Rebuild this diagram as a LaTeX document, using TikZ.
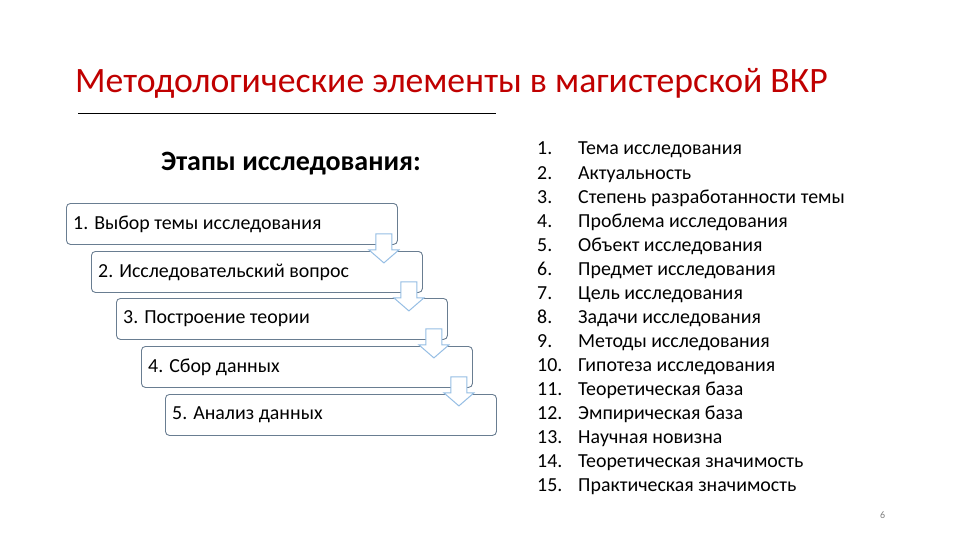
\documentclass[tikz,border=0pt]{standalone}
\usepackage{fontspec}
\setmainfont{Carlito}
\usetikzlibrary{calc}
\definecolor{titlered}{RGB}{192,0,0}
\definecolor{boxline}{RGB}{105,125,145}
\definecolor{arrline}{RGB}{150,190,228}
\begin{document}
\begin{tikzpicture}[x=1pt,y=-1pt,
  stagebox/.style={draw=boxline, line width=0.9pt, rounded corners=4pt, fill=white,
    minimum width=331pt, minimum height=41pt, anchor=north west, inner sep=0pt},
  stagetext/.style={anchor=west, inner sep=0pt, font=\fontsize{19.9}{22}\selectfont},
  downarrow/.style={draw=arrline, line width=1pt, fill=white, line join=miter},
  listnum/.style={anchor=base west, inner sep=0pt, font=\fontsize{19.9}{22}\selectfont},
  listtxt/.style={anchor=base west, inner sep=0pt, font=\fontsize{19.9}{22}\selectfont}]
\useasboundingbox (0,0) rectangle (960,540);
\fill[white] (0,0) rectangle (960,540);
% title
\node[anchor=base west, inner sep=0pt, text=titlered, font=\fontsize{35.7}{40}\selectfont] (title) at (75,93) {Методологические элементы в магистерской ВКР};
\coordinate (ruleA) at (78,113);
\coordinate (ruleB) at (496,113);
\draw[line width=0.8pt, black] (ruleA) -- (ruleB);
% heading
\node[anchor=base west, inner sep=0pt, font=\fontsize{28}{30}\bfseries\selectfont] (head) at (161,171) {Этапы исследования:};
% stage boxes
\node[stagebox] (b1) at (66,203) {};
\node[stagebox] (b2) at (91,251) {};
\node[stagebox] (b3) at (116,298) {};
\node[stagebox] (b4) at (141,346) {};
\node[stagebox] (b5) at (165,394) {};
\node[stagetext] (s1) at ($(b1.west)+(7,0)$) {1. Выбор темы исследования};
\node[stagetext] (s2) at ($(b2.west)+(7,0)$) {2. Исследовательский вопрос};
\node[stagetext] (s3) at ($(b3.west)+(7,0)$) {3. Построение теории};
\node[stagetext] (s4) at ($(b4.west)+(7,0)$) {4. Сбор данных};
\node[stagetext] (s5) at ($(b5.west)+(7,0)$) {5. Анализ данных};
% arrows
\foreach \b in {b1,b2,b3,b4}{
  \draw[downarrow] (\b.south east) ++(-22,-11) -- ++(16,0) -- ++(0,16) -- ++(7,0) -- ++(-15,13) -- ++(-15,-13) -- ++(7,0) -- cycle;
}
% list
\foreach \n/\t [count=\i from 0] in {1./Тема исследования,2./Актуальность,3./Степень разработанности темы,4./Проблема исследования,5./Объект исследования,6./Предмет исследования,7./Цель исследования,8./Задачи исследования,9./Методы исследования,10./Гипотеза исследования,11./Теоретическая база,12./Эмпирическая база,13./Научная новизна,14./Теоретическая значимость,15./Практическая значимость}{
  \node[listnum] (n\i) at (537,{155+24*\i}) {\n};
  \node[listtxt] (t\i) at (578,{155+24*\i}) {\t};
}
% page number
\node[anchor=base west, inner sep=0pt, text=gray, font=\fontsize{10}{12}\selectfont] (page) at (880,518) {6};
\end{tikzpicture}
\end{document}
